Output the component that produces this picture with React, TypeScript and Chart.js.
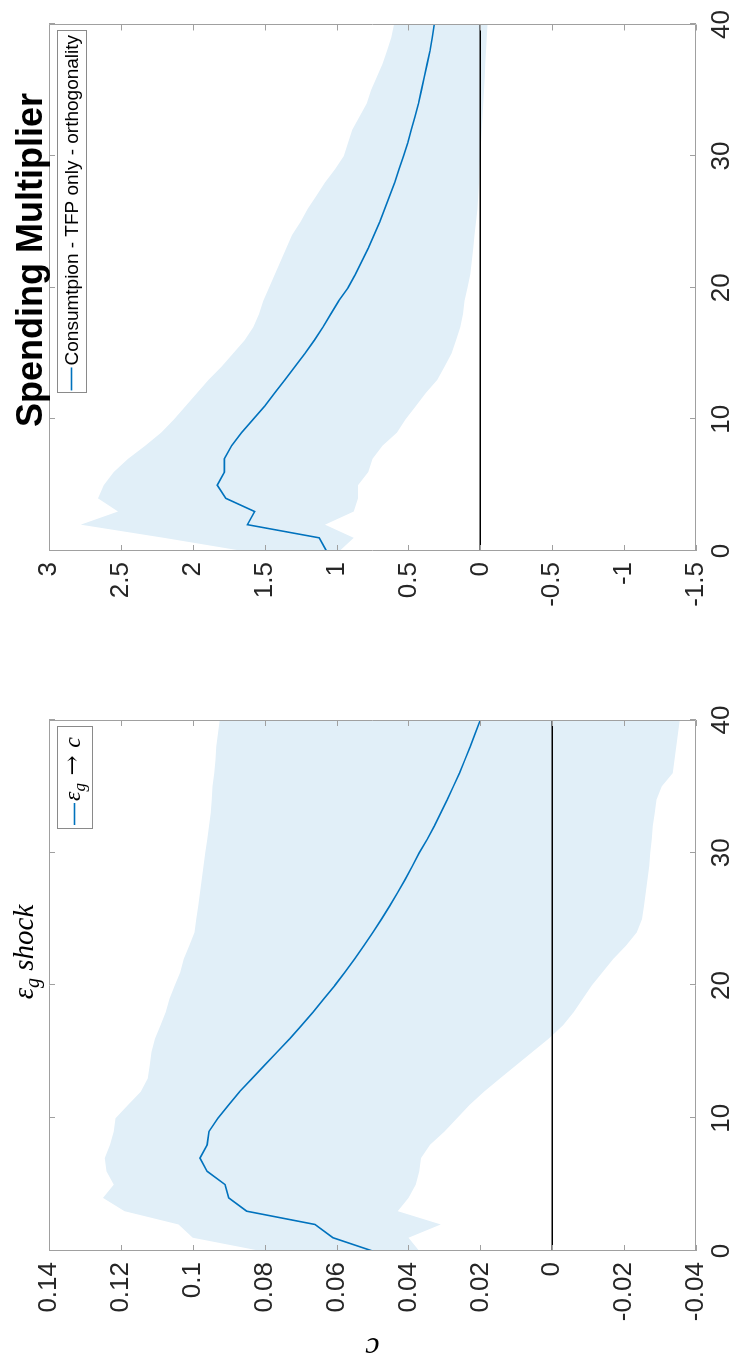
import React, { useEffect, useRef } from "react";
import { Chart, registerables } from "chart.js";

Chart.register(...registerables);

// ---------- data ----------
const horizon = [
  0, 1, 2, 3, 4, 5, 6, 7, 8, 9, 10, 11, 12, 13, 14, 15, 16, 17, 18, 19, 20,
  21, 22, 23, 24, 25, 26, 27, 28, 29, 30, 31, 32, 33, 34, 35, 36, 37, 38, 39, 40,
];

// left panel: eps_g shock -> c
const cLine = [
  0.05, 0.061, 0.066, 0.085, 0.09, 0.091, 0.096, 0.098, 0.096, 0.0955, 0.093,
  0.09, 0.087, 0.0835, 0.08, 0.0765, 0.073, 0.0697, 0.0665, 0.0635, 0.0605,
  0.0577, 0.055, 0.0524, 0.0499, 0.0475, 0.0452, 0.043, 0.0409, 0.0389, 0.037,
  0.0348, 0.0328, 0.031, 0.0292, 0.0275, 0.0258, 0.0243, 0.0228, 0.0214, 0.02,
];
const cUpper = [
  0.081, 0.1, 0.104, 0.119, 0.125, 0.122, 0.124, 0.1245, 0.123, 0.122, 0.1215,
  0.118, 0.1145, 0.1125, 0.112, 0.1115, 0.1105, 0.109, 0.1075, 0.1065, 0.105,
  0.1035, 0.1025, 0.101, 0.0995, 0.099, 0.0985, 0.098, 0.0975, 0.097, 0.0965,
  0.096, 0.0955, 0.095, 0.0947, 0.0945, 0.094, 0.0937, 0.0935, 0.093, 0.0925,
];
const cLower = [
  0.037, 0.04, 0.031, 0.043, 0.04, 0.038, 0.037, 0.0365, 0.034, 0.03, 0.0265,
  0.023, 0.019, 0.0145, 0.01, 0.0055, 0.001, -0.003, -0.006, -0.0085, -0.011,
  -0.014, -0.017, -0.0205, -0.0235, -0.025, -0.0255, -0.026, -0.0265, -0.027,
  -0.0273, -0.0277, -0.028, -0.0285, -0.029, -0.0305, -0.0335, -0.034, -0.0345,
  -0.035, -0.0355,
];

// right panel: spending multiplier
const mLine = [
  1.07, 1.12, 1.62, 1.57, 1.77, 1.83, 1.78, 1.78, 1.73, 1.66, 1.58, 1.5, 1.43,
  1.36, 1.29, 1.22, 1.155, 1.095, 1.04, 0.985, 0.92, 0.87, 0.825, 0.78, 0.74,
  0.7, 0.665, 0.63, 0.595, 0.565, 0.535, 0.505, 0.48, 0.455, 0.43, 0.41, 0.39,
  0.37, 0.35, 0.335, 0.32,
];
const mUpper = [
  1.65, 2.2, 2.78, 2.52, 2.66, 2.62, 2.55, 2.45, 2.33, 2.22, 2.13, 2.05, 1.97,
  1.89, 1.8, 1.72, 1.64, 1.58, 1.54, 1.51, 1.47, 1.43, 1.39, 1.35, 1.31, 1.25,
  1.2, 1.14, 1.08, 1.01, 0.95, 0.92, 0.89, 0.84, 0.79, 0.76, 0.72, 0.68, 0.65,
  0.62, 0.6,
];
const mLower = [
  0.98, 0.88, 1.08, 0.88, 0.85, 0.85, 0.78, 0.75, 0.68, 0.58, 0.52, 0.45, 0.38,
  0.3, 0.25, 0.2, 0.17, 0.14, 0.12, 0.11, 0.09, 0.07, 0.06, 0.05, 0.04, 0.03,
  0.02, 0.015, 0.01, 0.005, 0.0, -0.005, -0.01, -0.015, -0.02, -0.025, -0.03,
  -0.035, -0.04, -0.045, -0.05,
];

const xTicks = [0, 10, 20, 30, 40];
const cTicks = [-0.04, -0.02, 0, 0.02, 0.04, 0.06, 0.08, 0.1, 0.12, 0.14];
const mTicks = [-1.5, -1, -0.5, 0, 0.5, 1, 1.5, 2, 2.5, 3];

const leftTitle = "shock";
const rightTitle = "Spending Multiplier";
const rightLegend = "Consumtpion - TFP only - orthogonality";
const leftYLabel = "c";

// ---------- styles ----------
const SANS = '"Liberation Sans", Arial, Helvetica, sans-serif';
const SERIF = '"Liberation Serif", "Times New Roman", serif';
const BLUE = "#0072BD";
const BAND = "rgb(225,239,248)";
const AXIS = "#a0a0a0";
const TXT = "#262626";

type Seg = { t: string; font: string; dy?: number };

function drawRich(ctx: CanvasRenderingContext2D, segs: Seg[], x: number, y: number, align: "left" | "center") {
  ctx.save();
  ctx.textBaseline = "alphabetic";
  ctx.textAlign = "left";
  let total = 0;
  const widths = segs.map((s) => {
    ctx.font = s.font;
    const w = ctx.measureText(s.t).width;
    total += w;
    return w;
  });
  let cx = align === "center" ? x - total / 2 : x;
  segs.forEach((s, i) => {
    ctx.font = s.font;
    ctx.fillText(s.t, cx, y + (s.dy || 0));
    cx += widths[i];
  });
  ctx.restore();
}

const framePlugin = {
  id: "frame",
  afterDatasetsDraw(chart: any) {
    const { ctx, chartArea: a, scales } = chart;
    ctx.save();
    ctx.strokeStyle = AXIS;
    ctx.lineWidth = 1;
    const L = 6;
    ctx.beginPath();
    ctx.rect(Math.round(a.left) + 0.5, Math.round(a.top) + 0.5, Math.round(a.right - a.left) - 1, Math.round(a.bottom - a.top) - 1);
    scales.x.ticks.forEach((t: any) => {
      const p = Math.round(scales.x.getPixelForValue(t.value)) + 0.5;
      ctx.moveTo(p, a.bottom);
      ctx.lineTo(p, a.bottom - L);
      ctx.moveTo(p, a.top);
      ctx.lineTo(p, a.top + L);
    });
    scales.y.ticks.forEach((t: any) => {
      const p = Math.round(scales.y.getPixelForValue(t.value)) + 0.5;
      ctx.moveTo(a.left, p);
      ctx.lineTo(a.left + L, p);
      ctx.moveTo(a.right, p);
      ctx.lineTo(a.right - L, p);
    });
    ctx.stroke();
    ctx.restore();
  },
};

function leftOverlay(chart: any) {
  const { ctx, chartArea: a } = chart;
  // title
  ctx.fillStyle = "#000";
  drawRich(
    ctx,
    [
      { t: "ε", font: `italic 29px ${SERIF}` },
      { t: "g", font: `italic 20px ${SERIF}`, dy: 6 },
      { t: " " + leftTitle, font: `italic 29px ${SERIF}` },
    ],
    412,
    33,
    "center"
  );
  // y label
  ctx.save();
  ctx.translate(26, (a.top + a.bottom) / 2);
  ctx.rotate(-Math.PI / 2);
  ctx.fillStyle = "#000";
  ctx.font = `italic 32px ${SERIF}`;
  ctx.textAlign = "center";
  ctx.textBaseline = "alphabetic";
  ctx.fillText(leftYLabel, 0, 0);
  ctx.restore();
  // legend
  const r = a.right - 7, t = a.top + 8, w = 102, h = 35;
  ctx.save();
  ctx.fillStyle = "#fff";
  ctx.fillRect(r - w, t, w, h);
  ctx.strokeStyle = "#8a8a8a";
  ctx.lineWidth = 1;
  ctx.strokeRect(Math.round(r - w) + 0.5, t + 0.5, w, h);
  ctx.strokeStyle = BLUE;
  ctx.lineWidth = 1.6;
  ctx.beginPath();
  ctx.moveTo(r - w + 4, t + h / 2);
  ctx.lineTo(r - w + 26, t + h / 2);
  ctx.stroke();
  ctx.fillStyle = "#000";
  drawRich(
    ctx,
    [
      { t: "ε", font: `italic 24px ${SERIF}` },
      { t: "g", font: `italic 17px ${SERIF}`, dy: 5 },
      { t: " → ", font: `24px "DejaVu Serif", ${SERIF}` },
      { t: "c", font: `italic 24px ${SERIF}` },
    ],
    r - w + 28,
    t + h / 2 + 5,
    "left"
  );
  ctx.restore();
}

function rightOverlay(chart: any) {
  const { ctx, chartArea: a } = chart;
  ctx.save();
  ctx.fillStyle = "#000";
  ctx.font = `bold 36px ${SANS}`;
  ctx.textAlign = "center";
  ctx.textBaseline = "alphabetic";
  ctx.fillText(rightTitle, 422, 42);
  // legend
  const r = a.right - 7, t = a.top + 8, w = 362, h = 29;
  ctx.fillStyle = "#fff";
  ctx.fillRect(r - w, t, w, h);
  ctx.strokeStyle = "#8a8a8a";
  ctx.lineWidth = 1;
  ctx.strokeRect(Math.round(r - w) + 0.5, t + 0.5, w, h);
  ctx.strokeStyle = BLUE;
  ctx.lineWidth = 1.6;
  ctx.beginPath();
  ctx.moveTo(r - w + 3, t + h / 2);
  ctx.lineTo(r - w + 26, t + h / 2);
  ctx.stroke();
  ctx.fillStyle = "#000";
  ctx.font = `19px ${SANS}`;
  ctx.textAlign = "left";
  ctx.textBaseline = "middle";
  ctx.fillText(rightLegend, r - w + 28, t + h / 2 + 1);
  ctx.restore();
}

type Spec = {
  line: number[];
  upper: number[];
  lower: number[];
  yTicks: number[];
  yAxisWidth: number;
  padRight: number;
  overlay: (c: any) => void;
};

function makeConfig(s: Spec): any {
  const pts = (arr: number[]) => horizon.map((x, i) => ({ x, y: arr[i] }));
  const tickFont = { family: SANS, size: 26 };
  return {
    type: "line",
    data: {
      datasets: [
        { data: pts(s.lower), borderWidth: 0, borderColor: "rgba(0,0,0,0)", pointRadius: 0, fill: false, order: 3 },
        { data: pts(s.upper), borderWidth: 0, borderColor: "rgba(0,0,0,0)", pointRadius: 0, fill: "-1", backgroundColor: BAND, order: 3 },
        { data: [{ x: horizon[0], y: 0 }, { x: horizon[horizon.length - 1], y: 0 }], borderColor: "#000", borderWidth: 1.5, pointRadius: 0, fill: false, order: 2 },
        { data: pts(s.line), borderColor: BLUE, borderWidth: 1.6, pointRadius: 0, fill: false, order: 1 },
      ],
    },
    options: {
      animation: false,
      responsive: false,
      devicePixelRatio: 1,
      layout: { padding: { top: 49, right: s.padRight, left: 0, bottom: 0 } },
      plugins: { legend: { display: false }, tooltip: { enabled: false }, title: { display: false } },
      scales: {
        x: {
          type: "linear",
          min: xTicks[0],
          max: xTicks[xTicks.length - 1],
          afterBuildTicks: (sc: any) => {
            sc.ticks = xTicks.map((v) => ({ value: v }));
          },
          ticks: { font: tickFont, color: TXT, padding: 10, maxRotation: 0, autoSkip: false, callback: (v: any) => String(v) },
          grid: { display: false, drawTicks: false },
          border: { display: false },
          afterFit: (sc: any) => {
            sc.height = 42;
          },
        },
        y: {
          type: "linear",
          min: s.yTicks[0],
          max: s.yTicks[s.yTicks.length - 1],
          afterBuildTicks: (sc: any) => {
            sc.ticks = s.yTicks.map((v) => ({ value: v }));
          },
          ticks: { font: tickFont, color: TXT, padding: 11, autoSkip: false, callback: (v: any) => String(Number(Number(v).toFixed(2))) },
          grid: { display: false, drawTicks: false },
          border: { display: false },
          afterFit: (sc: any) => {
            sc.width = s.yAxisWidth;
          },
        },
      },
    },
    plugins: [framePlugin, { id: "overlay", afterDraw: s.overlay }],
  };
}

export default function App() {
  const leftRef = useRef<HTMLCanvasElement>(null);
  const rightRef = useRef<HTMLCanvasElement>(null);

  useEffect(() => {
    const a = new Chart(
      leftRef.current as HTMLCanvasElement,
      makeConfig({ line: cLine, upper: cUpper, lower: cLower, yTicks: cTicks, yAxisWidth: 113, padRight: 38, overlay: leftOverlay })
    );
    const b = new Chart(
      rightRef.current as HTMLCanvasElement,
      makeConfig({ line: mLine, upper: mUpper, lower: mLower, yTicks: mTicks, yAxisWidth: 131, padRight: 20, overlay: rightOverlay })
    );
    return () => {
      a.destroy();
      b.destroy();
    };
  }, []);

  return (
    <div style={{ position: "fixed", left: 0, top: 0, width: 738, height: 1364, overflow: "hidden", background: "#fff" }}>
      <div
        style={{
          position: "absolute",
          left: 0,
          top: 0,
          width: 1364,
          height: 738,
          transformOrigin: "0 0",
          transform: "translate(0px, 1364px) rotate(-90deg)",
        }}
      >
        <canvas ref={leftRef} width={682} height={738} style={{ position: "absolute", left: 0, top: 0, width: 682, height: 738 }} />
        <canvas ref={rightRef} width={682} height={738} style={{ position: "absolute", left: 682, top: 0, width: 682, height: 738 }} />
      </div>
    </div>
  );
}
